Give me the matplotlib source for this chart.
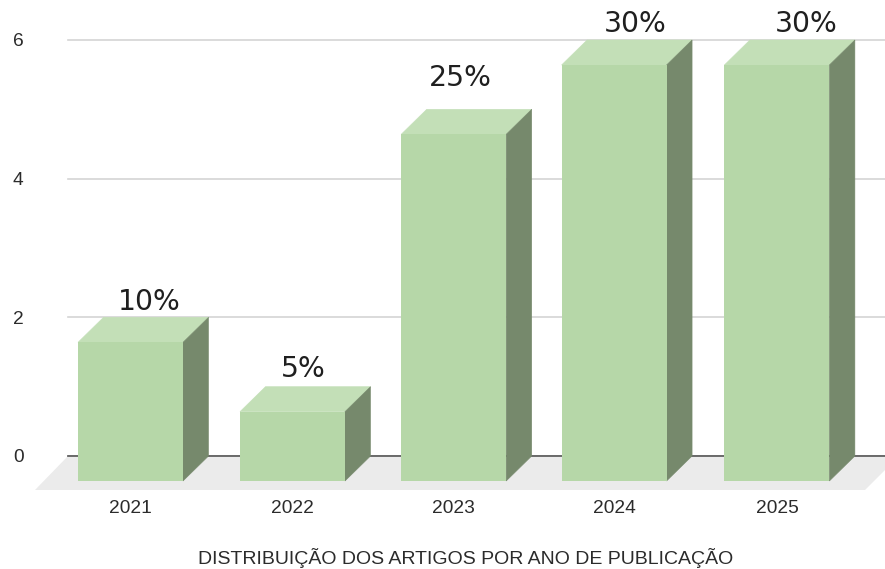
import matplotlib
matplotlib.use("Agg")
import matplotlib.pyplot as plt
from matplotlib.patches import Polygon

anos = ['2021', '2022', '2023', '2024', '2025']
artigos = [2, 1, 5, 6, 6]
percentuais = ['10%', '5%', '25%', '30%', '30%']
yticks = [0, 2, 4, 6]

# category positions, the source picture is not quite evenly spaced
pos = [0, 1, 1.995, 2.985, 3.99]
label_dx = [18.5, 10.5, 6.5, 21, 29]
label_dy = [15, 18, 31, 16, 16]

W, H = 885, 569
PX_X = 162.0   # pixels per category
PX_Y = 69.33   # pixels per article

largura = 105 / PX_X
prof_x = 25.5 / PX_X
prof_y = 25 / PX_Y

fig = plt.figure(figsize=(W / 100, H / 100), dpi=100)
ax = fig.add_axes([68 / W, (H - 456) / H, (W - 68) / W, 416 / H])
ax.set_xlim((68 - 130.5) / PX_X, (W - 130.5) / PX_X)
ax.set_ylim(0, 6)

for s in ['top', 'left', 'right']:
    ax.spines[s].set_visible(False)
ax.spines['bottom'].set_color('#555555')
ax.spines['bottom'].set_linewidth(1.2)
ax.spines['bottom'].set_zorder(1.5)

ax.yaxis.grid(True, color='#d4d4d4', linewidth=1.2, zorder=1, clip_on=False)
ax.set_axisbelow(True)
ax.set_yticks(yticks)
ax.set_xticks(pos)
ax.set_xticklabels(anos)
ax.tick_params(axis='both', length=0, colors='#2b2b2b', labelsize=13.8)
ax.tick_params(axis='x', pad=32)
ax.tick_params(axis='y', pad=32)
for t in ax.get_xticklabels() + ax.get_yticklabels():
    t.set_family('Liberation Sans')

# floor
fx0 = (35 - 130.5) / PX_X
fx1 = (865 - 130.5) / PX_X
fy = -34 / PX_Y
floor = Polygon([(fx0, fy), (fx1, fy), (fx1 + 34 / PX_X, 0), (fx0 + 33 / PX_X, 0)],
                closed=True, fc='#ebebeb', ec='none', zorder=1.2, clip_on=False)
ax.add_patch(floor)

# bars, back face sits on the value, front face shifted down and left
for x, v in zip(pos, artigos):
    esq = x - largura / 2
    dir_ = x + largura / 2
    topo = Polygon([(esq, v - prof_y), (dir_, v - prof_y), (dir_ + prof_x, v), (esq + prof_x, v)],
                   closed=True, fc='#c3dfb7', ec='#c3dfb7', lw=0.4, zorder=3, clip_on=False)
    lado = Polygon([(dir_, -prof_y), (dir_ + prof_x, 0), (dir_ + prof_x, v), (dir_, v - prof_y)],
                   closed=True, fc='#76896c', ec='#76896c', lw=0.4, zorder=3, clip_on=False)
    ax.add_patch(topo)
    ax.add_patch(lado)
    ax.bar(x, v, width=largura, bottom=-prof_y, color='#b6d7a8', zorder=3.1, clip_on=False)

for x, v, txt, dx, dy in zip(pos, artigos, percentuais, label_dx, label_dy):
    ax.annotate(txt, xy=(x, v), xytext=(dx, dy), textcoords='offset pixels',
                ha='center', va='center', fontsize=20.3, family='DejaVu Sans',
                color='#1f1f1f', annotation_clip=False, zorder=5)

ax.set_xlabel('DISTRIBUIÇÃO DOS ARTIGOS POR ANO DE PUBLICAÇÃO', family='Liberation Sans',
              fontsize=14, color='#2b2b2b', labelpad=22, x=(466 - 68) / (W - 68))

fig.savefig('out.png', dpi=100)
